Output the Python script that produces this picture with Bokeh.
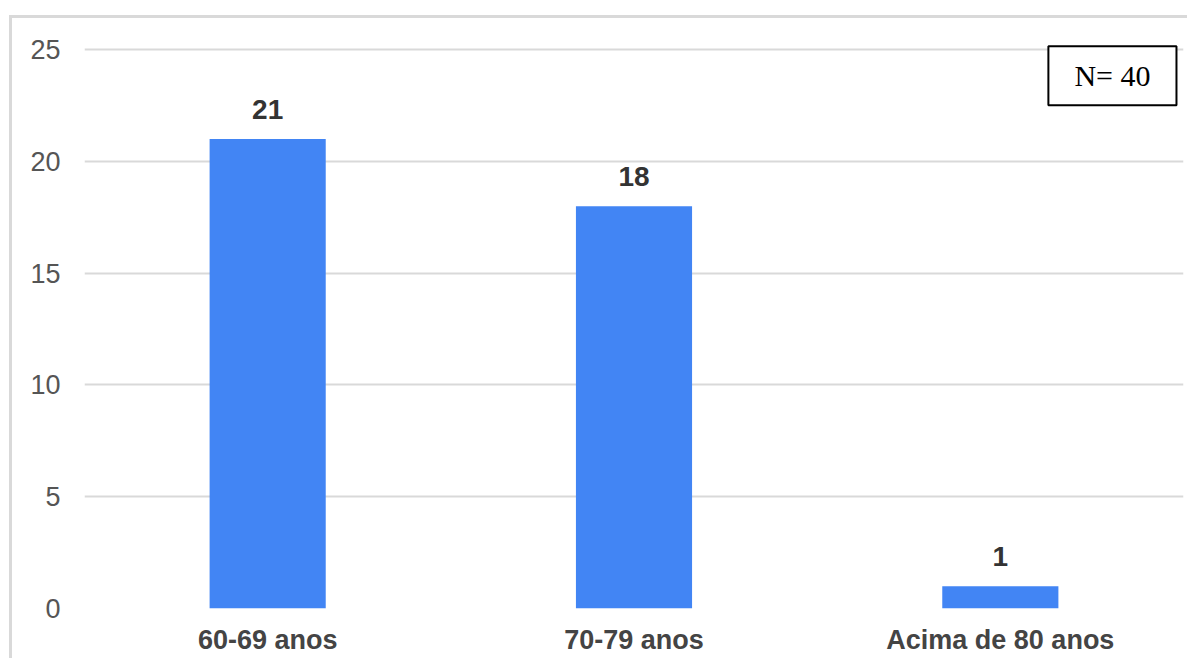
from bokeh.plotting import figure
from bokeh.models import ColumnDataSource, Label, FactorRange, Range1d, LabelSet
from bokeh.core.properties import value
from bokeh.embed import file_html
from bokeh.resources import INLINE

categories = ["60-69 anos", "70-79 anos", "Acima de 80 anos"]
counts = [21, 18, 1]
y_ticks = [0, 5, 10, 15, 20, 25]
note_text = "N= 40"

src = ColumnDataSource(dict(cat=categories, val=counts, lab=[str(v) for v in counts]))

p = figure(x_range=FactorRange(*categories), y_range=Range1d(0, 25.5),
           width=1187, height=658, output_backend="svg", toolbar_location=None,
           min_border_left=84, min_border_right=4, min_border_top=38, min_border_bottom=50)
p.styles = {
    "background-color": "white",
    "background-image": "linear-gradient(#d9d9d9,#d9d9d9), linear-gradient(#d9d9d9,#d9d9d9)",
    "background-size": "3px calc(100% - 15px), calc(100% - 9px) 3px",
    "background-position": "9px 15px, 9px 15px",
    "background-repeat": "no-repeat",
}
p.outline_line_color = None
p.background_fill_color = "white"
p.border_fill_alpha = 0

p.vbar(x="cat", top="val", width=0.317, source=src, color="#4285f4", line_color=None)

labels = LabelSet(x="cat", y="val", text="lab", source=src, text_align="center",
                  text_baseline="alphabetic", y_offset=20, text_font=value("Liberation Sans"),
                  text_font_style="bold", text_font_size="28px", text_color="#333333")
p.add_layout(labels)

p.xgrid.grid_line_color = None
p.ygrid.grid_line_color = "#d9d9d9"
p.ygrid.grid_line_width = 2
p.yaxis.ticker = y_ticks

for ax in (p.xaxis, p.yaxis):
    ax.axis_line_color = None
    ax.major_tick_line_color = None
    ax.minor_tick_line_color = None
    ax.major_tick_out = 0
    ax.major_tick_in = 0
    ax.minor_tick_out = 0
    ax.major_label_text_font = "Liberation Sans"
    ax.major_label_text_font_size = "27px"
    ax.major_label_text_color = "#444444"

p.yaxis.major_label_standoff = 24
p.yaxis.major_label_text_color = "#555555"
p.xaxis.major_label_standoff = 16
p.xaxis.major_label_text_font_style = "bold"

note = Label(x=2.806, y=23.83, text=note_text, text_align="center", text_baseline="middle",
             text_font="Liberation Serif", text_font_size="30px", text_color="black",
             border_line_color="black", border_line_width=2, background_fill_color="white",
             padding=(26, 13))
p.add_layout(note)

open("out.html", "w").write(file_html(p, INLINE))
